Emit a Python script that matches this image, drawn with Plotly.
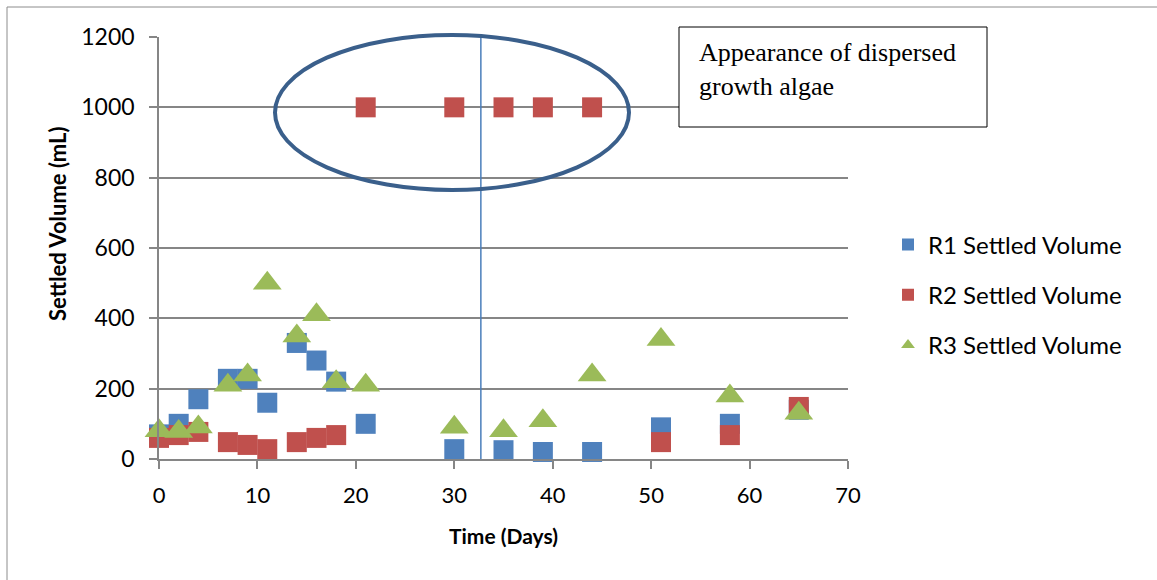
import plotly.graph_objects as go

# Sampling days
days = [0, 2, 4, 7, 9, 11, 14, 16, 18, 21, 30, 35, 39, 44, 51, 58, 65]

# Settled volume (mL) per reactor
r1_volume = [70, 100, 170, 228, 228, 160, 330, 280, 220, 100, 28, 25, 20, 20, 90, 100, 140]
r2_volume = [60, 68, 77, 48, 40, 28, 48, 60, 68, 1000, 1000, 1000, 1000, 1000, 48, 68, 148]
r3_volume = [80, 78, 91, 210, 239, 500, 350, 410, 220, 210, 90, 80, 109, 239, 340, 179, 130]

series = [
    ("R1 Settled Volume", r1_volume, "square", "#4F81BD", 20),
    ("R2 Settled Volume", r2_volume, "square", "#C0504D", 20),
    ("R3 Settled Volume", r3_volume, "triangle-up", "#9BBB59", 25),
]

# Day on which dispersed growth algae appeared
algae_day = 32.7

x_ticks = [0, 10, 20, 30, 40, 50, 60, 70]
y_ticks = [0, 200, 400, 600, 800, 1000, 1200]

FONT = "Lato, 'Open Sans', sans-serif"

fig = go.Figure()
for i, (name, vals, symbol, color, size) in enumerate(series):
    fig.add_trace(go.Scatter(
        x=days, y=vals, mode="markers", name=name,
        legendgroup=f"g{i}",
        marker=dict(symbol=symbol, size=size, color=color,
                    line=dict(width=0)),
        cliponaxis=False,
    ))

# plot area spans pixels 159..848 horizontally and 37..459 vertically
L, R, T, B = 159, 848, 37, 459
W, H = R - L, B - T


def px(x):
    return (x - L) / W


def py(y):
    return (B - y) / H


shapes = [
    # outer frame
    dict(type="rect", xref="paper", yref="paper",
         x0=px(7), x1=px(1170), y0=py(600), y1=py(7),
         line=dict(color="#8C8C8C", width=1), layer="below"),
    # algae appearance marker
    dict(type="line", xref="x", yref="y", x0=algae_day, x1=algae_day,
         y0=0, y1=1200, line=dict(color="#4A7EBB", width=1.5)),
    # ellipse around the R2 plateau
    dict(type="circle", xref="paper", yref="paper",
         x0=px(275), x1=px(629), y0=py(190), y1=py(35),
         line=dict(color="#3A5F8B", width=4)),
    # callout box
    dict(type="rect", xref="paper", yref="paper",
         x0=px(679), x1=px(987), y0=py(127), y1=py(27),
         line=dict(color="#000000", width=1), fillcolor="white"),
]

annotations = [
    dict(xref="paper", yref="paper", x=px(697), y=py(36),
         xanchor="left", yanchor="top", align="left", showarrow=False,
         text="Appearance of dispersed<br>growth algae",
         font=dict(family="'Liberation Serif', 'Times New Roman', serif",
                   size=26, color="#000000")),
    # y-axis title
    dict(xref="paper", yref="paper", x=px(57), y=py(224),
         xanchor="center", yanchor="middle", textangle=-90, showarrow=False,
         text="<b>Settled Volume (mL)</b>",
         font=dict(family=FONT, size=22, color="#000000")),
]

fig.update_layout(
    width=1157, height=580,
    margin=dict(l=L, r=1157 - R, t=T, b=580 - B),
    paper_bgcolor="white", plot_bgcolor="white",
    font=dict(family=FONT, size=22, color="#000000"),
    shapes=shapes, annotations=annotations,
    showlegend=True,
    legend=dict(x=px(888), y=py(295), xanchor="left", yanchor="middle",
                font=dict(family=FONT, size=24, color="#000000"),
                tracegroupgap=16, bgcolor="rgba(0,0,0,0)",
                itemsizing="constant", itemwidth=30),
    xaxis=dict(range=[0, 70], tickvals=x_ticks, showgrid=False,
               showline=True, linecolor="#868686", linewidth=1.5,
               ticks="outside", ticklen=8, tickcolor="#868686", tickwidth=1.5,
               tickfont=dict(size=22), ticklabelstandoff=8,
               zeroline=False,
               title=dict(text="<b>Time (Days)</b>", standoff=22,
                          font=dict(family=FONT, size=21))),
    yaxis=dict(range=[0, 1200], tickvals=y_ticks, showgrid=True,
               gridcolor="#868686", gridwidth=1.5,
               showline=True, linecolor="#868686", linewidth=1.5,
               ticks="outside", ticklen=8, tickcolor="#868686", tickwidth=1.5,
               tickfont=dict(size=23), ticklabelstandoff=10,
               zeroline=False),
)

fig.write_html("out.html")
